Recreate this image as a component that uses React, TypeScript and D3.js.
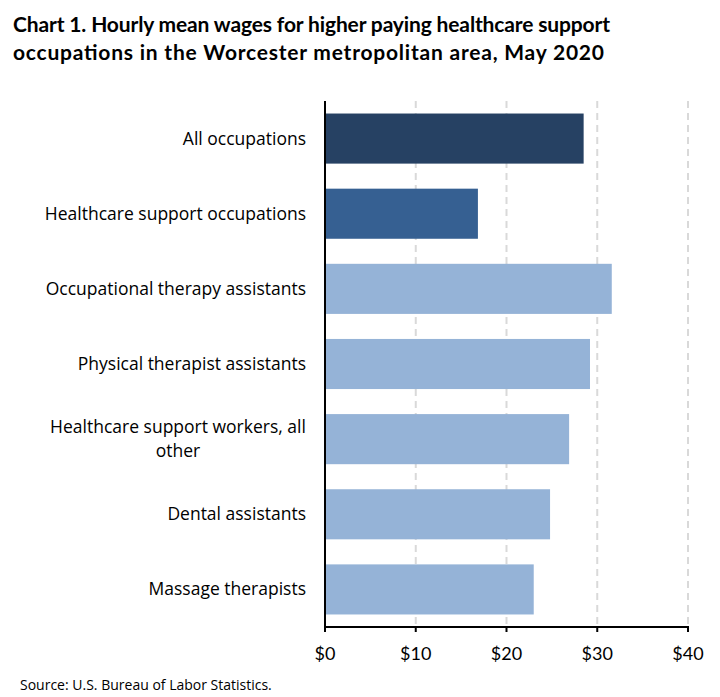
import React from "react";
import * as d3 from "d3";

const categories: string[][] = [
  ["All occupations"],
  ["Healthcare support occupations"],
  ["Occupational therapy assistants"],
  ["Physical therapist assistants"],
  ["Healthcare support workers, all", "other"],
  ["Dental assistants"],
  ["Massage therapists"],
];
const wages: number[] = [28.5, 16.85, 31.6, 29.2, 26.9, 24.8, 23.0];
const barColors: string[] = ["#264163", "#366092", "#95b3d7", "#95b3d7", "#95b3d7", "#95b3d7", "#95b3d7"];
const xTicks: number[] = [0, 10, 20, 30, 40];
const titleLines: string[] = [
  "Chart 1. Hourly mean wages for higher paying healthcare support",
  "occupations in the Worcester metropolitan area, May 2020",
];
const titleWidths: number[] = [597, 591];
const source = "Source: U.S. Bureau of Labor Statistics.";

const W = 720;
const H = 697;
const left = 325;
const right = 688;
const top = 101;
const bottom = 627;
const titleFont = "Lato, Carlito, Calibri, sans-serif";
const labelFont = "'Open Sans', 'Noto Sans', 'Segoe UI', sans-serif";

export default function App() {
  const x = d3.scaleLinear().domain([0, 40]).range([left, right]);
  const y = d3
    .scaleBand<number>()
    .domain(d3.range(categories.length))
    .range([top, bottom])
    .paddingInner(1 / 3)
    .paddingOuter(1 / 6);

  return (
    <svg width={W} height={H} style={{ position: "absolute", left: 0, top: 0, background: "#fff" }}>
      {titleLines.map((t, i) => (
        <text
          key={i}
          x={13}
          y={32 + i * 28}
          fontFamily={titleFont}
          fontWeight="bold"
          fontSize={21}
          fill="#000"
          textLength={titleWidths[i]}
          lengthAdjust="spacing"
        >
          {t}
        </text>
      ))}
      {xTicks.slice(1).map((t) => (
        <line key={t} x1={x(t)} x2={x(t)} y1={top} y2={bottom} stroke="#d9d9d9" strokeWidth={2} strokeDasharray="7,5" />
      ))}
      {wages.map((v, i) => (
        <rect key={i} x={x(0)} y={y(i)} width={x(v) - x(0)} height={y.bandwidth()} fill={barColors[i]} />
      ))}
      <line x1={left} x2={left} y1={top} y2={bottom + 1} stroke="#000" strokeWidth={2} />
      <line x1={left - 1} x2={right + 1} y1={bottom} y2={bottom} stroke="#000" strokeWidth={2} />
      {xTicks.map((t) => (
        <g key={t}>
          <line x1={x(t)} x2={x(t)} y1={bottom} y2={bottom + 5} stroke="#000" strokeWidth={2} />
          <text x={x(t)} y={660} textAnchor="middle" fontFamily={titleFont} fontSize={18} fill="#000">
            {"$" + t}
          </text>
        </g>
      ))}
      {categories.map((lines, i) => {
        const cy = (y(i) as number) + y.bandwidth() / 2;
        if (lines.length === 1) {
          return (
            <text key={i} x={306} y={cy + 6} textAnchor="end" fontFamily={labelFont} fontSize={17.5} fill="#000">
              {lines[0]}
            </text>
          );
        }
        return (
          <text key={i} x={178} textAnchor="middle" fontFamily={labelFont} fontSize={17.5} fill="#000">
            {lines.map((l, j) => (
              <tspan key={j} x={178} y={cy + 6 - 12 + j * 24}>
                {l}
              </tspan>
            ))}
          </text>
        );
      })}
      <text x={20} y={690} fontFamily={labelFont} fontSize={14} fill="#000">
        {source}
      </text>
    </svg>
  );
}
